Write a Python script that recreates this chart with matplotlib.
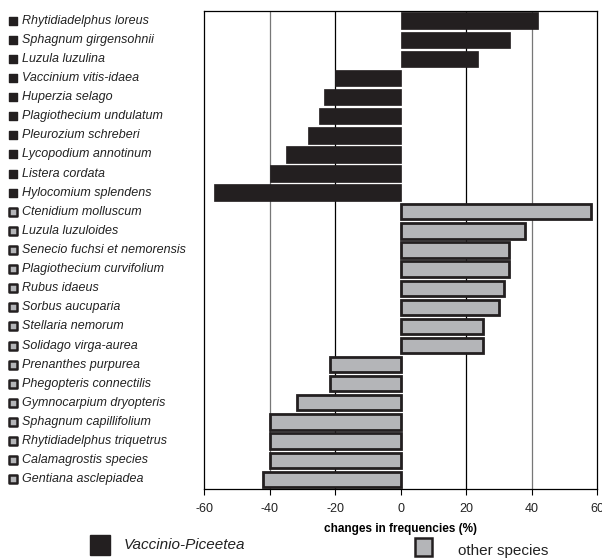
import numpy as np
import matplotlib
matplotlib.use("Agg")
import matplotlib.pyplot as plt
from matplotlib.transforms import blended_transform_factory
from matplotlib.patches import Rectangle

plt.rcParams['font.family'] = ['Liberation Sans', 'DejaVu Sans']

# species, top to bottom
vp_species = ["Rhytidiadelphus loreus", "Sphagnum girgensohnii", "Luzula luzulina",
              "Vaccinium vitis-idaea", "Huperzia selago", "Plagiothecium undulatum",
              "Pleurozium schreberi", "Lycopodium annotinum", "Listera cordata",
              "Hylocomium splendens"]
vp_values = [42, 33.5, 23.5, -20, -23.5, -25, -28.4, -35, -40, -57]

other_species = ["Ctenidium molluscum", "Luzula luzuloides", "Senecio fuchsi et nemorensis",
                 "Plagiothecium curvifolium", "Rubus idaeus", "Sorbus aucuparia",
                 "Stellaria nemorum", "Solidago virga-aurea", "Prenanthes purpurea",
                 "Phegopteris connectilis", "Gymnocarpium dryopteris", "Sphagnum capillifolium",
                 "Rhytidiadelphus triquetrus", "Calamagrostis species", "Gentiana asclepiadea"]
other_values = [58, 38, 33, 33, 31.7, 30, 25, 25, -21.7, -21.7, -31.7, -40, -40, -40, -42]

xticks = [-60, -40, -20, 0, 20, 40, 60]

dark = "#231f20"
grey = "#b4b5b8"

fig = plt.figure(figsize=(6.02, 5.58), dpi=100)
ax = fig.add_axes([0.339, 0.124, 0.653, 0.856])

n_vp = len(vp_species)
n_all = n_vp + len(other_species)
y_vp = np.arange(n_vp)
y_ot = np.arange(n_vp, n_all)

# grid lines
for xv in xticks[1:-1]:
    if xv == 0:
        continue
    ax.axvline(xv, color="black" if abs(xv) == 20 else "#777777", lw=0.9, zorder=0)

ax.barh(y_vp, vp_values, height=0.86, color=dark, edgecolor=dark, lw=0.5, zorder=2)
ax.barh(y_ot, other_values, height=0.8, color=grey, edgecolor=dark, lw=2, zorder=2)

ax.set_xlim(-60, 60)
ax.set_ylim(n_all - 0.5, -0.5)
ax.set_xticks(xticks)
ax.set_xticklabels([str(v) for v in xticks], fontsize=9, color="#222222")
ax.tick_params(axis="x", direction="out", length=4, width=0.8, pad=6)
ax.set_yticks([])
for s in ax.spines.values():
    s.set_linewidth(0.9)
ax.set_xlabel("changes in frequencies (%)", fontsize=8.5, fontweight="bold", labelpad=6)

# species labels with little squares
tr = blended_transform_factory(fig.transFigure, ax.transData)
ax.scatter([0.021] * n_vp, y_vp, marker="s", s=38, color=dark, transform=tr, clip_on=False)
ax.scatter([0.021] * len(other_species), y_ot, marker="s", s=30, color=grey,
           edgecolors=dark, linewidths=1.8, transform=tr, clip_on=False)
for i, name in enumerate(vp_species + other_species):
    ax.text(0.037, i, name, transform=tr, fontsize=9, style="italic",
            ha="left", va="center", color="#222222")

# legend at the bottom
fig.add_artist(Rectangle((0.149, 0.005), 0.034, 0.037, transform=fig.transFigure,
                         facecolor=dark, edgecolor=dark))
fig.text(0.206, 0.024, "Vaccinio-Piceetea", fontsize=11, style="italic",
         va="center", color="#222222")
fig.add_artist(Rectangle((0.690, 0.003), 0.028, 0.033, transform=fig.transFigure,
                         facecolor=grey, edgecolor=dark, lw=1.8))
fig.text(0.760, 0.013, "other species", fontsize=11, va="center", color="#222222")

fig.savefig("out.png", dpi=100)
